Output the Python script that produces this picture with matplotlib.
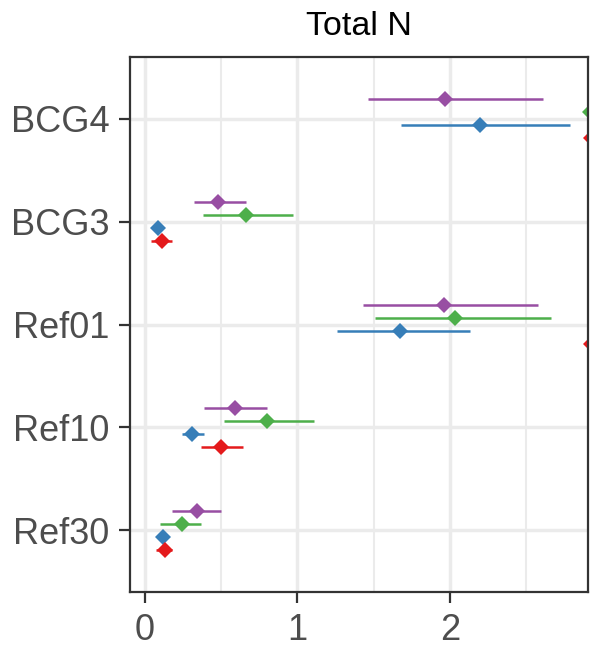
import matplotlib
matplotlib.use('Agg')
import matplotlib.pyplot as plt
import numpy as np
from matplotlib.ticker import MultipleLocator

plt.rcParams['font.family'] = ['Liberation Sans', 'DejaVu Sans']

# categories bottom -> top
cats = ['Ref30', 'Ref10', 'Ref01', 'BCG3', 'BCG4']

# estimates and intervals for each group
purple_est = [0.34, 0.59, 1.96, 0.48, 1.97]
purple_lo = [0.18, 0.39, 1.43, 0.32, 1.46]
purple_hi = [0.50, 0.80, 2.58, 0.66, 2.61]

green_est = [0.24, 0.80, 2.03, 0.66, 2.92]
green_lo = [0.10, 0.52, 1.51, 0.38, 2.915]
green_hi = [0.37, 1.11, 2.66, 0.97, 2.96]

blue_est = [0.12, 0.31, 1.67, 0.085, 2.20]
blue_lo = [0.11, 0.24, 1.26, 0.075, 1.68]
blue_hi = [0.13, 0.39, 2.13, 0.095, 2.79]

red_est = [0.13, 0.50, 2.925, 0.11, 2.925]
red_lo = [0.07, 0.37, 2.915, 0.04, 2.915]
red_hi = [0.18, 0.64, 2.96, 0.18, 2.96]

series = [
    (purple_est, purple_lo, purple_hi, '#984EA3', 1.5),
    (green_est, green_lo, green_hi, '#4DAF4A', 0.5),
    (blue_est, blue_lo, blue_hi, '#377EB8', -0.5),
    (red_est, red_lo, red_hi, '#E41A1C', -1.5),
]
dodge = 0.127

fig = plt.figure(figsize=(5.9, 6.49), dpi=100)
ax = fig.add_axes([130 / 590, 1 - 592 / 649, 458 / 590, 535 / 649])

y = np.arange(len(cats))
for est, lo, hi, col, k in series:
    yy = y + k * dodge
    # keep marks under the panel border, like ggplot
    ax.hlines(yy, lo, hi, color=col, linewidth=1.8, zorder=2.2)
    ax.plot(est, yy, linestyle='none', marker='D', markersize=8.5,
            color=col, markeredgewidth=0, zorder=2.3)

ax.set_xlim(-0.098, 2.905)
ax.set_ylim(-0.6, 4.6)
ax.set_yticks(y)
ax.set_yticklabels(cats)
ax.xaxis.set_major_locator(MultipleLocator(1))
ax.xaxis.set_minor_locator(MultipleLocator(0.5))

ax.grid(True, which='major', color='#EBEBEB', linewidth=2.5, zorder=0)
ax.grid(True, which='minor', axis='x', color='#EBEBEB', linewidth=1.5, zorder=0)
ax.set_axisbelow(True)

for s in ax.spines.values():
    s.set_color('#333333')
    s.set_linewidth(1.6)
    s.set_zorder(3)

ax.tick_params(axis='both', which='major', length=8, width=1.6, color='#333333',
               labelsize=26, labelcolor='#4D4D4D', pad=7)
ax.tick_params(axis='x', which='minor', length=0)

ax.set_title('Total N', fontsize=24.5, color='black', pad=16)

fig.savefig('out.png', dpi=100)
